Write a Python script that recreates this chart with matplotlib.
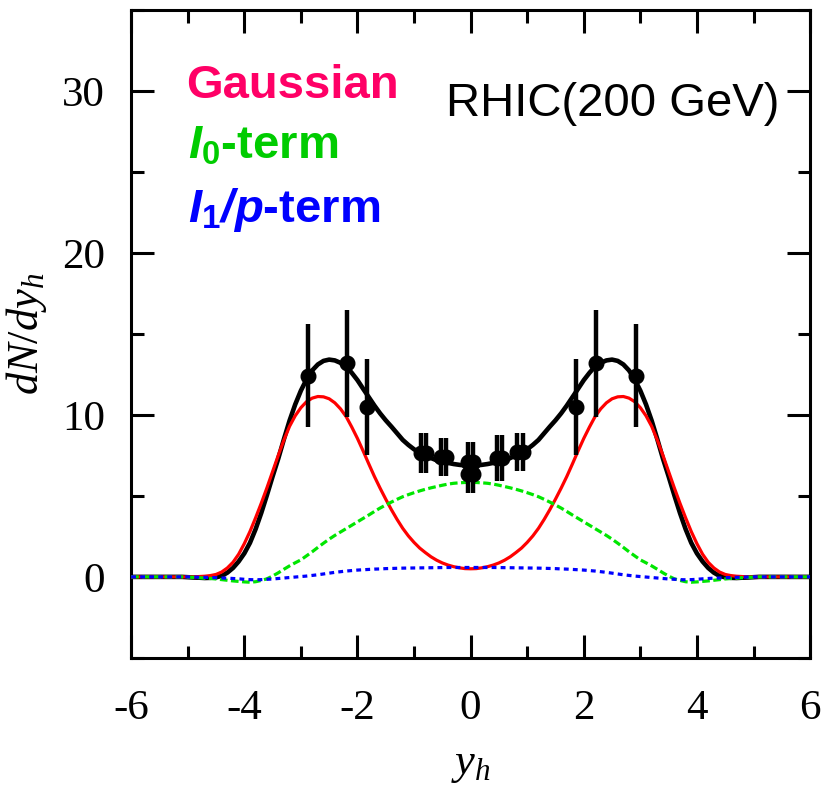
import numpy as np
import matplotlib
matplotlib.use("Agg")
import matplotlib.pyplot as plt
from matplotlib.ticker import MultipleLocator

plt.rcParams['mathtext.fontset'] = 'custom'
plt.rcParams['mathtext.rm'] = 'Liberation Serif'
plt.rcParams['mathtext.it'] = 'Liberation Serif:italic'
plt.rcParams['mathtext.bf'] = 'Liberation Sans:bold'
plt.rcParams['mathtext.bfit'] = 'Liberation Sans:italic:bold'
plt.rcParams['axes.unicode_minus'] = False
plt.rcParams['lines.scale_dashes'] = False

# rapidity grid for the model curves, -6 .. 6 in steps of 0.1
y_grid = np.round(np.arange(-60, 61) * 0.1, 1)

total = [0, 0, 0, 0, 0, 0, 0, 0, 0, 0,
         -0.02, -0.04, -0.05, -0.07, -0.06, -0.03, 0.06, 0.26, 0.55, 0.95,
         1.45, 2.1, 2.95, 3.95, 5.05, 6.2, 7.3, 8.5, 9.65, 10.65,
         11.5, 12.2, 12.75, 13.12, 13.34, 13.42, 13.37, 13.22, 13.0, 12.6,
         12.15, 11.62, 11.1, 10.58, 10.1, 9.67, 9.28, 8.87, 8.46, 8.15,
         7.88, 7.68, 7.5, 7.34, 7.2, 7.11, 7.04, 6.97, 6.92, 6.88,
         6.87,
         6.88, 6.92, 6.97, 7.04, 7.11, 7.2, 7.34, 7.5, 7.68, 7.88,
         8.15, 8.46, 8.87, 9.28, 9.67, 10.1, 10.58, 11.1, 11.62, 12.15,
         12.6, 13.0, 13.22, 13.37, 13.42, 13.34, 13.12, 12.75, 12.2, 11.5,
         10.65, 9.65, 8.5, 7.3, 6.2, 5.05, 3.95, 2.95, 2.1, 1.45,
         0.95, 0.55, 0.26, 0.06, -0.03, -0.06, -0.07, -0.05, -0.04, -0.02,
         0, 0, 0, 0, 0, 0, 0, 0, 0, 0]

gaussian = [0, 0, 0, 0, 0, 0, 0, 0, 0, 0,
            0, 0, 0.02, 0.04, 0.08, 0.15, 0.3, 0.55, 0.9, 1.4,
            2.05, 2.8, 3.65, 4.55, 5.5, 6.5, 7.5, 8.45, 9.3, 9.95,
            10.45, 10.82, 11.04, 11.14, 11.12, 11.0, 10.75, 10.38, 9.9, 9.25,
            8.55, 7.78, 6.98, 6.2, 5.48, 4.8, 4.15, 3.55, 3.0, 2.53,
            2.13, 1.78, 1.5, 1.24, 1.03, 0.86, 0.73, 0.63, 0.56, 0.51,
            0.5,
            0.51, 0.56, 0.63, 0.73, 0.86, 1.03, 1.24, 1.5, 1.78, 2.13,
            2.53, 3.0, 3.55, 4.15, 4.8, 5.48, 6.2, 6.98, 7.78, 8.55,
            9.25, 9.9, 10.38, 10.75, 11.0, 11.12, 11.14, 11.04, 10.82, 10.45,
            9.95, 9.3, 8.45, 7.5, 6.5, 5.5, 4.55, 3.65, 2.8, 2.05,
            1.4, 0.9, 0.55, 0.3, 0.15, 0.08, 0.04, 0.02, 0, 0,
            0, 0, 0, 0, 0, 0, 0, 0, 0, 0]

i0_term = [0, 0, 0, 0, 0, 0, 0, 0, 0, 0,
           -0.02, -0.03, -0.05, -0.08, -0.1, -0.13, -0.17, -0.21, -0.25, -0.28,
           -0.31, -0.33, -0.3, -0.22, -0.12, 0.05, 0.25, 0.47, 0.68, 0.87,
           1.05, 1.3, 1.55, 1.82, 2.08, 2.33, 2.56, 2.77, 2.98, 3.19,
           3.4, 3.61, 3.82, 4.04, 4.25, 4.44, 4.62, 4.79, 4.95, 5.08,
           5.2, 5.31, 5.41, 5.5, 5.58, 5.66, 5.73, 5.78, 5.81, 5.83,
           5.84,
           5.83, 5.81, 5.78, 5.73, 5.66, 5.58, 5.5, 5.41, 5.31, 5.2,
           5.08, 4.95, 4.79, 4.62, 4.44, 4.25, 4.04, 3.82, 3.61, 3.4,
           3.19, 2.98, 2.77, 2.56, 2.33, 2.08, 1.82, 1.55, 1.3, 1.05,
           0.87, 0.68, 0.47, 0.25, 0.05, -0.12, -0.22, -0.3, -0.33, -0.31,
           -0.28, -0.25, -0.21, -0.17, -0.13, -0.1, -0.08, -0.05, -0.03, -0.02,
           0, 0, 0, 0, 0, 0, 0, 0, 0, 0]

i1p_term = [0, 0, 0, 0, 0, 0, 0, 0, 0, 0,
            0, -0.01, -0.02, -0.03, -0.04, -0.05, -0.07, -0.08, -0.1, -0.12,
            -0.15, -0.17, -0.18, -0.17, -0.15, -0.13, -0.1, -0.07, -0.04, -0.01,
            0.02, 0.05, 0.09, 0.13, 0.18, 0.23, 0.28, 0.32, 0.36, 0.39,
            0.42, 0.44, 0.46, 0.48, 0.49, 0.51, 0.52, 0.53, 0.54, 0.545,
            0.55, 0.555, 0.56, 0.565, 0.57, 0.575, 0.58, 0.58, 0.58, 0.58,
            0.58,
            0.58, 0.58, 0.58, 0.58, 0.575, 0.57, 0.565, 0.56, 0.555, 0.55,
            0.545, 0.54, 0.53, 0.52, 0.51, 0.49, 0.48, 0.46, 0.44, 0.42,
            0.39, 0.36, 0.32, 0.28, 0.23, 0.18, 0.13, 0.09, 0.05, 0.02,
            -0.01, -0.04, -0.07, -0.1, -0.13, -0.15, -0.17, -0.18, -0.17, -0.15,
            -0.12, -0.1, -0.08, -0.07, -0.05, -0.04, -0.03, -0.02, -0.01, 0,
            0, 0, 0, 0, 0, 0, 0, 0, 0, 0]

# measured points
data_y = [-2.88, -2.18, -1.84, -0.88, -0.79, -0.53, -0.43, -0.04, 0.05, -0.04, 0.05,
          0.46, 0.56, 0.82, 0.92, 1.87, 2.22, 2.93]
data_dn = [12.43, 13.2, 10.5, 7.67, 7.67, 7.4, 7.4, 7.1, 7.1, 6.35, 6.35,
           7.35, 7.35, 7.72, 7.72, 10.5, 13.2, 12.43]
data_err = [3.2, 3.3, 2.95, 1.23, 1.23, 1.2, 1.2, 1.2, 1.2, 1.2, 1.2,
            1.4, 1.4, 1.15, 1.15, 2.95, 3.3, 3.2]

fig = plt.figure(figsize=(8.3, 7.85), dpi=100)
ax = fig.add_axes([0.158, 0.162, 0.818, 0.825])

ax.plot(y_grid, total, color='black', lw=3.3, zorder=2)
ax.plot(y_grid, gaussian, color='#ff0000', lw=2.3, zorder=3)
ax.plot(y_grid, i0_term, color='#00e600', lw=2.3, dashes=(5.5, 2.5), zorder=4)
ax.plot(y_grid, i1p_term, color='#0000ff', lw=2.3, dashes=(3.5, 3.0), zorder=5)
ax.errorbar(data_y, data_dn, yerr=data_err, fmt='o', color='black', ms=10.5,
            elinewidth=3.2, capsize=0, zorder=6)

ax.set_xlim(-6, 6)
ax.set_ylim(-5, 35)
ax.xaxis.set_major_locator(MultipleLocator(2))
ax.xaxis.set_minor_locator(MultipleLocator(1))
ax.yaxis.set_major_locator(MultipleLocator(10))
ax.yaxis.set_minor_locator(MultipleLocator(5))
ax.tick_params(which='both', direction='in', top=True, right=True, width=2.2)
ax.tick_params(which='major', length=16.5)
ax.tick_params(which='minor', length=9)
ax.tick_params(axis='y', pad=19)
ax.tick_params(axis='x', pad=23)
for sp in ax.spines.values():
    sp.set_linewidth(2.2)
for lab in ax.get_xticklabels() + ax.get_yticklabels():
    lab.set_fontfamily('Liberation Serif')
    lab.set_fontsize(31)

ax.set_xlabel(r'$y_h$', fontsize=32, labelpad=10)
ax.set_ylabel(r'$dN/dy_h$', fontsize=32, labelpad=9)

sans = dict(family='Liberation Sans', fontsize=34, va='baseline', ha='left')
ax.text(-5.03, 29.6, 'Gaussian', color='#ff0066', fontweight='bold', **sans)
ax.text(-4.99, 25.85, r'$\mathbfit{I}_{\mathbf{0}}$-term', color='#00cc00',
        fontweight='bold', **sans)
ax.text(-4.99, 21.9, r'$\mathbfit{I}_{\mathbf{1}}\mathbfit{/p}$-term', color='#0000ff',
        fontweight='bold', **sans)
ax.text(-0.44, 28.45, 'RHIC(200 GeV)', color='black', **sans)

fig.savefig('out.png', dpi=100)
